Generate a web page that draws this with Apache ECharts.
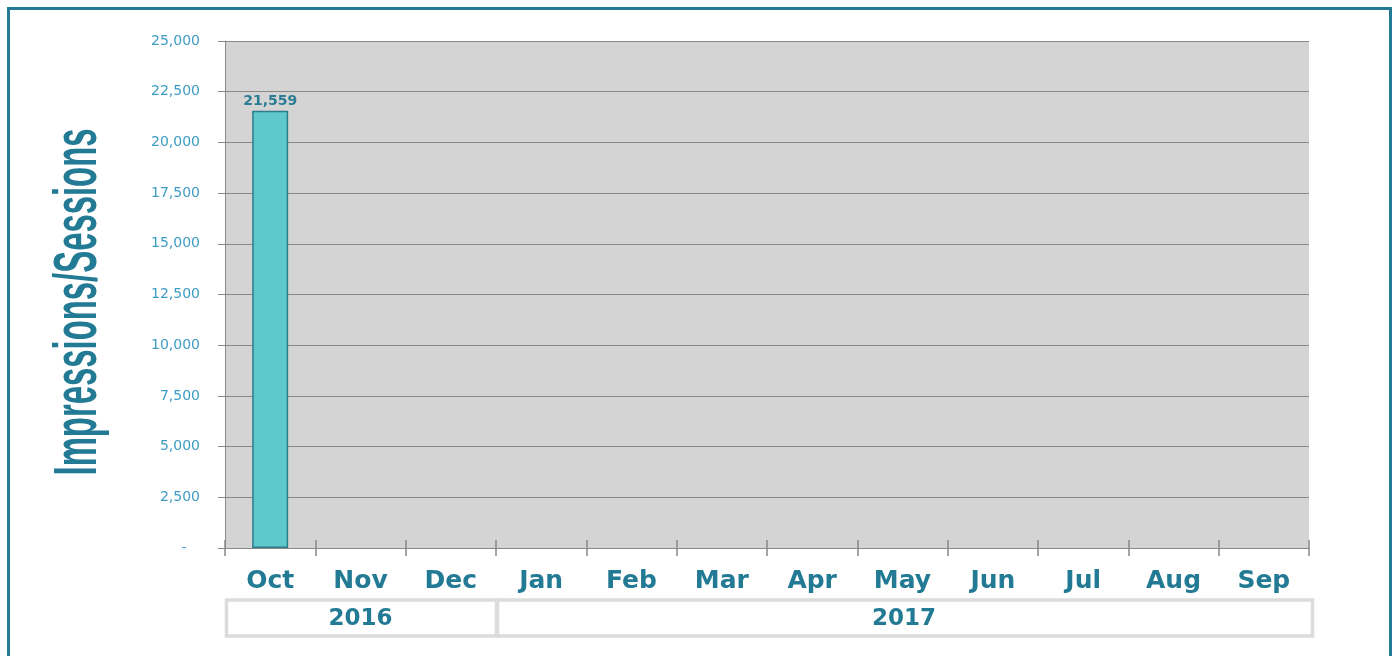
<!DOCTYPE html>
<html>
<head>
<meta charset="utf-8">
<script src="https://cdn.jsdelivr.net/npm/echarts@6/dist/echarts.min.js"></script>
<style>
  html, body { margin: 0; padding: 0; background: #fff; }
  #main { width: 1395px; height: 656px; }
</style>
</head>
<body>
<div id="main"></div>
<script>
  // data
  var months = ['Oct', 'Nov', 'Dec', 'Jan', 'Feb', 'Mar', 'Apr', 'May', 'Jun', 'Jul', 'Aug', 'Sep']
  var impressions = [21559, null, null, null, null, null, null, null, null, null, null, null]
  var years = ['2016', '2017']
  var yearMonthCount = [3, 9]
  var yMin = 0
  var yMax = 25000
  var yStep = 2500

  var teal = '#237a94'
  var font = 'Liberation Sans, Arial, sans-serif'
  var wide = 'DejaVu Sans, Verdana, sans-serif'

  var myChart = echarts.init(document.getElementById('main'))

  var option = {
    animation: false,
    backgroundColor: '#fff',
    grid: {
      left: 225,
      right: 86,
      top: 41,
      bottom: 108,
      show: true,
      backgroundColor: '#d4d4d4',
      borderWidth: 0
    },
    xAxis: [{
      type: 'category',
      data: months,
      position: 'bottom',
      axisLine: { show: true, lineStyle: { color: '#888', width: 1 } },
      axisTick: { show: true, interval: 0, length: 8, lineStyle: { color: '#888', width: 1.5 } },
      axisLabel: {
        interval: 0,
        margin: 21,
        color: teal,
        fontFamily: wide,
        fontWeight: 'bold',
        fontSize: 25
      },
      splitLine: { show: false }
    }, {
      // second copy only to draw the tick stubs above the axis line
      type: 'category',
      data: months,
      position: 'bottom',
      axisLine: { show: false },
      axisTick: { show: true, inside: true, interval: 0, length: 8, lineStyle: { color: '#888', width: 1.5 } },
      axisLabel: { show: false },
      splitLine: { show: false }
    }],
    yAxis: {
      type: 'value',
      min: yMin,
      max: yMax,
      interval: yStep,
      axisLine: { show: true, lineStyle: { color: '#888', width: 1 } },
      axisTick: { show: true, length: 7, lineStyle: { color: '#888' } },
      axisLabel: {
        margin: 25,
        color: '#3d9cc5',
        fontFamily: wide,
        fontSize: 14,
        formatter: function (v) {
          return v === 0 ? '-   ' : v.toLocaleString('en-US')
        }
      },
      splitLine: { show: true, lineStyle: { color: '#888', width: 1 } }
    },
    series: [{
      name: 'Impressions/Sessions',
      type: 'bar',
      xAxisIndex: 0,
      data: impressions,
      barWidth: 36,
      itemStyle: {
        color: '#5ec8cb',
        borderColor: '#2b7d8e',
        borderWidth: 1.5
      },
      label: {
        show: true,
        position: 'top',
        distance: 2,
        color: '#2a7b93',
        fontFamily: wide,
        fontWeight: 'bold',
        fontSize: 14,
        formatter: function (p) {
          return p.value == null ? '' : p.value.toLocaleString('en-US')
        }
      }
    }]
  }

  myChart.setOption(option)

  // year boxes under the month labels, placed from the category axis
  var first = myChart.convertToPixel({ xAxisIndex: 0 }, months[0])
  var second = myChart.convertToPixel({ xAxisIndex: 0 }, months[1])
  var band = second - first
  var start = first - band / 2
  var graphics = []
  var idx = 0
  years.forEach(function (y, i) {
    var x0 = start + idx * band
    var w = yearMonthCount[i] * band
    if (i === years.length - 1) w += 3
    graphics.push({
      type: 'rect',
      shape: { x: x0 + 1.5, y: 600, width: w - 1, height: 36 },
      style: { fill: '#fff', stroke: '#dcdcdc', lineWidth: 3.5 },
      z: 5
    })
    graphics.push({
      type: 'text',
      x: x0 + w / 2,
      y: 619,
      style: {
        text: y,
        fill: teal,
        font: 'bold 23px ' + wide,
        textAlign: 'center',
        textVerticalAlign: 'middle'
      },
      z: 6
    })
    idx += yearMonthCount[i]
  })

  // y axis title, squeezed like the original
  graphics.push({
    type: 'text',
    x: 79,
    y: 302,
    rotation: Math.PI / 2,
    scaleX: 0.53,
    style: {
      text: 'Impressions/Sessions',
      fill: teal,
      font: 'bold 62px ' + font,
      textAlign: 'center',
      textVerticalAlign: 'middle'
    }
  })

  // outer frame
  graphics.push({
    type: 'rect',
    shape: { x: 8.5, y: 8.5, width: 1382, height: 700 },
    style: { fill: null, stroke: teal, lineWidth: 3 },
    z: 10
  })

  myChart.setOption({ graphic: graphics })
</script>
</body>
</html>
